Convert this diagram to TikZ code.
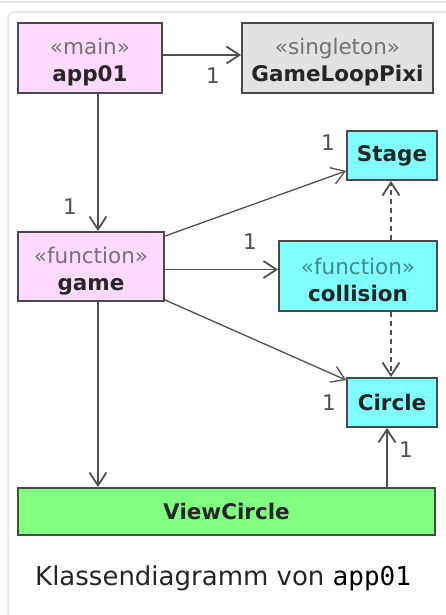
\documentclass[tikz,border=0pt]{standalone}
\usepackage{fontspec}
\setmainfont{DejaVu Sans}
\setmonofont{DejaVu Sans Mono}
\usetikzlibrary{arrows.meta}
\definecolor{boxpink}{HTML}{FFD9FF}
\definecolor{boxgray}{HTML}{E2E2E2}
\definecolor{boxcyan}{HTML}{80FFFF}
\definecolor{boxgreen}{HTML}{80FF80}
\definecolor{boxline}{HTML}{4A4A4A}
\definecolor{linegray}{HTML}{505050}
\definecolor{framegray}{HTML}{E4E4E4}
\definecolor{tealgray}{HTML}{3E8A8A}
\newcommand{\stereo}[2][black!55]{{\mdseries\fontsize{21.5}{27}\selectfont\rule{0pt}{25pt}\textcolor{#1}{«#2»}}}

\begin{document}
\begin{tikzpicture}[%
      x=1pt, y=-1pt,
      cls/.style={draw=boxline, line width=1.8pt, inner sep=0pt, align=center,
        font=\fontsize{21.5}{27}\selectfont\bfseries, text=black!85},
      assoc/.style={draw=linegray, line width=1.8pt,
        -{Straight Barb[length=13pt,width=17pt]}},
      thinassoc/.style={assoc, line width=1.3pt},
      dep/.style={assoc, dash pattern=on 5pt off 4pt},
      mult/.style={font=\fontsize{21.5}{21.5}\selectfont, text=linegray, inner sep=0pt},
      ]
      \useasboundingbox (0,0) rectangle (446,615);
      \draw[framegray, line width=1.5pt] (0,2) -- (446,2);
      \draw[framegray, line width=1.5pt, rounded corners=6pt] (8,618) -- (8,12) -- (450,12);

      \node[cls, fill=boxpink, minimum width=144pt, minimum height=70pt] (app01) at (90,58) {\stereo{main}\\app01};
      \node[cls, fill=boxgray, minimum width=191pt, minimum height=70pt] (loop) at (337.5,58) {\stereo{singleton}\\GameLoopPixi};
      \node[cls, fill=boxcyan, minimum width=90pt, minimum height=49pt] (stage) at (392,155.5) {Stage};
      \node[cls, fill=boxpink, minimum width=146pt, minimum height=69pt] (game) at (91,266.5) {\stereo{function}\\game};
      \node[cls, fill=boxcyan, minimum width=158pt, minimum height=70pt] (collision) at (358,276) {\stereo[tealgray]{function}\\collision};
      \node[cls, fill=boxcyan, minimum width=90pt, minimum height=49pt] (circle) at (392,402.5) {Circle};
      \node[cls, fill=boxgreen, minimum width=417pt, minimum height=47pt] (view) at (226.5,511.5) {ViewCircle};

      \draw[assoc] ([yshift=3pt]app01.east) -- ([yshift=3pt]loop.west);
      \draw[assoc] ([xshift=8pt]app01.south) -- ([xshift=7pt]game.north);
      \draw[thinassoc] ([yshift=-5pt]game.north east) -- ([yshift=10pt]stage.south west);
      \draw[assoc] ([yshift=-3pt]game.east) -- ([yshift=-3pt]game.east -| collision.west);
      \draw[thinassoc] ([yshift=2pt]game.south east) -- ([yshift=-3pt]circle.north west);
      \draw[assoc] ([xshift=7pt]game.south) -- ([xshift=7pt]game.south |- view.north);
      \draw[assoc] ([xshift=-5pt]circle.south |- view.north) -- ([xshift=-5pt]circle.south);
      \draw[dep] ([xshift=-1pt]stage.south |- collision.north) -- ([xshift=-1pt]stage.south);
      \draw[dep] ([xshift=-1pt]circle.north |- collision.south) -- ([xshift=-1pt]circle.north);

      \node[mult] (m1) at (213,76) {1};
      \node[mult] (m2) at (70,207) {1};
      \node[mult] (m3) at (328,143) {1};
      \node[mult] (m4) at (250,242) {1};
      \node[mult] (m5) at (329,403) {1};
      \node[mult] (m6) at (406,450) {1};

      \node[font=\fontsize{26}{30}\selectfont, text=black!85, anchor=west, inner sep=0pt] (caption) at (35,578)
        {Klassendiagramm von \texttt{\color{black}app01}};
\end{tikzpicture}
\end{document}
